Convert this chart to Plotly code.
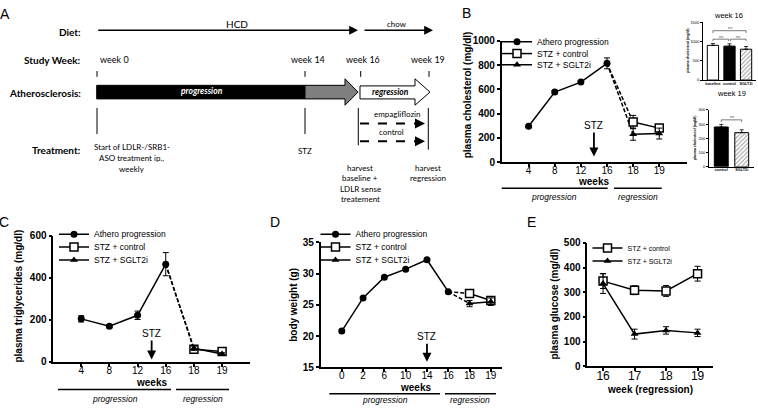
import plotly.graph_objects as go

W, H = 758, 411
def X(px): return px / W
def Y(py): return 1 - py / H

# ---------------- data ----------------
B_weeks = ["4", "8", "12", "16", "18", "19"]
B_prog_x = ["4", "8", "12", "16"]
B_prog = [295, 578, 660, 815]
B_prog_err = [10, 12, 10, 45]
B_reg_x = ["18", "19"]
B_ctrl = [330, 280]
B_ctrl_err = [55, 25]
B_sglt = [230, 235]
B_sglt_err = [50, 45]

W16_groups = ["baseline", "control", "SGLT2i"]
W16_vals = [900, 880, 800]
W16_err = [50, 60, 70]
W19_groups = ["control", "SGLT2i"]
W19_vals = [280, 240]
W19_err = [18, 20]

C_weeks = ["4", "8", "12", "16", "18", "19"]
C_prog_x = ["4", "8", "12", "16"]
C_prog = [205, 170, 222, 465]
C_prog_err = [15, 8, 20, 55]
C_reg_x = ["18", "19"]
C_ctrl = [60, 50]
C_ctrl_err = [8, 8]
C_sglt = [65, 38]
C_sglt_err = [10, 6]

D_weeks = ["0", "2", "6", "10", "14", "16", "18", "19"]
D_prog_x = ["0", "2", "6", "10", "14", "16"]
D_prog = [20.8, 26.1, 29.4, 30.7, 32.2, 27.1]
D_reg_x = ["18", "19"]
D_ctrl = [26.8, 25.7]
D_ctrl_err = [0.6, 0.6]
D_sglt = [25.2, 25.5]
D_sglt_err = [0.5, 0.6]

E_weeks = [16, 17, 18, 19]
E_ctrl = [345, 308, 305, 375]
E_ctrl_err = [30, 18, 22, 30]
E_sglt = [335, 130, 145, 135]
E_sglt_err = [40, 20, 15, 15]

names = ["Athero progression", "STZ + control", "STZ + SGLT2i"]

FONT = "Liberation Sans, Arial, sans-serif"
AFONT = "Lato, Open Sans, sans-serif"
BLACK = "black"

fig = go.Figure()

def err(arr):
    return dict(type="data", array=arr, color=BLACK, thickness=1, width=3, visible=True)

mk_circle = dict(symbol="circle", size=7, color=BLACK)
mk_square = dict(symbol="square", size=8, color="white", line=dict(color=BLACK, width=1.5))
mk_tri = dict(symbol="triangle-up", size=7, color=BLACK)
solid = dict(color=BLACK, width=1.5)
dashed = dict(color=BLACK, width=1.5, dash="4px,2px")

legend_defs = {}   # legend id -> (x px of legend, y px of item centre, font size)
def leg(lid, x, y, size):
    legend_defs[lid] = (x, y, size)
    return lid

def time_panel(xa, ya, legs, prog_x, prog, prog_err, reg_x, ctrl, ctrl_err, sglt, sglt_err):
    fig.add_trace(go.Scatter(x=[prog_x[-1], reg_x[0]], y=[prog[-1], ctrl[0]], mode="lines",
                             line=dashed, xaxis=xa, yaxis=ya, showlegend=False, hoverinfo="skip"))
    fig.add_trace(go.Scatter(x=[prog_x[-1], reg_x[0]], y=[prog[-1], sglt[0]], mode="lines",
                             line=dashed, xaxis=xa, yaxis=ya, showlegend=False, hoverinfo="skip"))
    fig.add_trace(go.Scatter(x=prog_x, y=prog, name=names[0], mode="lines+markers",
                             line=solid, marker=mk_circle,
                             error_y=err(prog_err) if prog_err else None,
                             xaxis=xa, yaxis=ya, legend=legs[0]))
    fig.add_trace(go.Scatter(x=reg_x, y=ctrl, name=names[1], mode="lines+markers",
                             line=solid, marker=mk_square, error_y=err(ctrl_err),
                             xaxis=xa, yaxis=ya, legend=legs[1]))
    fig.add_trace(go.Scatter(x=reg_x, y=sglt, name=names[2], mode="lines+markers",
                             line=solid, marker=mk_tri, error_y=err(sglt_err),
                             xaxis=xa, yaxis=ya, legend=legs[2]))

time_panel("x", "y", [leg("legend", 497, 36.7, 8.5), leg("legend2", 497, 49, 8.5), leg("legend3", 497, 60.5, 8.5)],
           B_prog_x, B_prog, B_prog_err, B_reg_x, B_ctrl, B_ctrl_err, B_sglt, B_sglt_err)
time_panel("x4", "y4", [leg("legend4", 54, 235, 8.5), leg("legend5", 54, 248.3, 8.5), leg("legend6", 54, 261.7, 8.5)],
           C_prog_x, C_prog, C_prog_err, C_reg_x, C_ctrl, C_ctrl_err, C_sglt, C_sglt_err)
time_panel("x5", "y5", [leg("legend7", 315.5, 235, 8.5), leg("legend8", 315.5, 248.3, 8.5), leg("legend9", 315.5, 261.7, 8.5)],
           D_prog_x, D_prog, None, D_reg_x, D_ctrl, D_ctrl_err, D_sglt, D_sglt_err)

# Panel E
fig.add_trace(go.Scatter(x=E_weeks, y=E_ctrl, name=names[1], mode="lines+markers", line=solid,
                         marker=mk_square, error_y=err(E_ctrl_err), xaxis="x6", yaxis="y6",
                         legend=leg("legend10", 587.5, 249.3, 7)))
fig.add_trace(go.Scatter(x=E_weeks, y=E_sglt, name=names[2], mode="lines+markers", line=solid,
                         marker=mk_tri, error_y=err(E_sglt_err), xaxis="x6", yaxis="y6",
                         legend=leg("legend11", 587.5, 262.7, 7)))

# Insets
def bar_err(arr):
    return dict(type="data", array=arr, arrayminus=[0] * len(arr), symmetric=False,
                color=BLACK, thickness=0.8, width=2)

w16_colors = ["white", BLACK, "white"]
w16_pat = ["", "", "/"]
fig.add_trace(go.Bar(x=W16_groups, y=W16_vals, error_y=bar_err(W16_err), width=0.68,
                     marker=dict(color=w16_colors, line=dict(color=BLACK, width=1),
                                 pattern=dict(shape=w16_pat, fgcolor="#555", bgcolor="white", size=3, solidity=0.35)),
                     xaxis="x2", yaxis="y2", showlegend=False))
w19_colors = [BLACK, "white"]
w19_pat = ["", "/"]
fig.add_trace(go.Bar(x=W19_groups, y=W19_vals, error_y=bar_err(W19_err), width=0.68,
                     marker=dict(color=w19_colors, line=dict(color=BLACK, width=1),
                                 pattern=dict(shape=w19_pat, fgcolor="#555", bgcolor="white", size=3, solidity=0.35)),
                     xaxis="x3", yaxis="y3", showlegend=False))

# ---------------- axes ----------------
BOLDT = dict(family=FONT, size=10, color=BLACK, weight="bold")
REGT = dict(family=FONT, size=10, color=BLACK)
INSX = dict(family=FONT, size=3.8, color=BLACK, weight="bold")
INSY = dict(family=FONT, size=4, color=BLACK)

def ax_style(**kw):
    d = dict(showline=True, linecolor=BLACK, linewidth=1.5, ticks="outside", ticklen=3,
             tickwidth=1.5, tickcolor=BLACK, showgrid=False, zeroline=False,
             tickfont=BOLDT, fixedrange=True)
    d.update(kw)
    return d

layout = dict(
    width=W, height=H, margin=dict(l=0, r=0, t=0, b=0),
    paper_bgcolor="white", plot_bgcolor="rgba(0,0,0,0)",
    font=dict(family=FONT, color=BLACK),
    xaxis=ax_style(domain=[X(501.7), X(686.7)], anchor="y", type="category", tickfont=REGT,
                   ticklabelstandoff=-5,
                   categoryorder="array", categoryarray=B_weeks, range=[-1.03, 6.05]),
    yaxis=ax_style(domain=[Y(160.7), Y(36)], anchor="x", range=[0, 1000], tickvals=[0, 200, 400, 600, 800, 1000]),
    xaxis2=ax_style(domain=[X(703), X(756)], anchor="y2", type="category", range=[-0.6, 2.6],
                    ticks="", linewidth=0.8, tickangle=0, tickfont=INSX, ticklabelstandoff=-1),
    yaxis2=ax_style(domain=[Y(76.3), Y(16.7)], anchor="x2", range=[0, 1500], tickvals=[0, 500, 1000, 1500],
                    linewidth=0.8, ticklen=2, tickwidth=0.8, tickfont=INSY),
    xaxis3=ax_style(domain=[X(709), X(754)], anchor="y3", type="category", range=[-0.6, 1.6],
                    ticks="", linewidth=0.8, tickangle=0, tickfont=INSX, ticklabelstandoff=-1),
    yaxis3=ax_style(domain=[Y(165.7), Y(107)], anchor="x3", range=[0, 400], tickvals=[0, 100, 200, 300, 400],
                    linewidth=0.8, ticklen=2, tickwidth=0.8, tickfont=INSY),
    xaxis4=ax_style(domain=[X(53.3), X(250)], anchor="y4", type="category", tickfont=REGT,
                    ticklabelstandoff=-5,
                    categoryorder="array", categoryarray=C_weeks, range=[-0.99, 5.99]),
    yaxis4=ax_style(domain=[Y(366.7), Y(236.7)], anchor="x4", range=[0, 600], tickvals=[0, 200, 400, 600]),
    xaxis5=ax_style(domain=[X(320.7), X(501.7)], anchor="y5", type="category", tickfont=REGT,
                    ticklabelstandoff=-5,
                    categoryorder="array", categoryarray=D_weeks, range=[-0.99, 7.51]),
    yaxis5=ax_style(domain=[Y(372.3), Y(243.3)], anchor="x5", range=[15, 35], tickvals=[15, 20, 25, 30, 35]),
    xaxis6=ax_style(domain=[X(587.3), X(713.3)], anchor="y6", range=[15.5, 19.5], tickvals=E_weeks,
                    ticklabelstandoff=-5,
                    tickfont=dict(family=FONT, size=12, color=BLACK)),
    yaxis6=ax_style(domain=[Y(371), Y(244)], anchor="x6", range=[0, 500], tickvals=[0, 100, 200, 300, 400, 500]),
    showlegend=True,
)

for lid, (lx, ly, fs) in legend_defs.items():
    layout[lid] = dict(x=X(lx), y=Y(ly), xanchor="left", yanchor="middle", bgcolor="rgba(0,0,0,0)",
                       borderwidth=0, itemwidth=30, font=dict(family=FONT, size=fs, color=BLACK))

fig.update_layout(**layout)

ann = []
shapes = []

def txt(x, y, s, size=9, bold=False, italic=False, color=BLACK, xanchor="center", family=AFONT, angle=0):
    t = s
    if bold:
        t = "<b>" + t + "</b>"
    if italic:
        t = "<i>" + t + "</i>"
    ann.append(dict(x=X(x), y=Y(y), xref="paper", yref="paper", text=t, showarrow=False,
                    xanchor=xanchor, yanchor="middle", textangle=angle,
                    font=dict(family=family, size=size, color=color)))

def line(x0, y0, x1, y1, w=1, dash=None, color=BLACK):
    shapes.append(dict(type="line", xref="paper", yref="paper", x0=X(x0), y0=Y(y0), x1=X(x1), y1=Y(y1),
                       line=dict(color=color, width=w, dash=dash)))

def arrow(x0, y0, x1, y1, w=1.5, head=2, size=1.2):
    ann.append(dict(x=X(x1), y=Y(y1), ax=x0 - x1, ay=y0 - y1, xref="paper", yref="paper",
                    axref="pixel", ayref="pixel", text="", showarrow=True, standoff=0, startstandoff=0,
                    arrowhead=head, arrowsize=size, arrowwidth=w, arrowcolor=BLACK))

def path(pts, fill, lw=1):
    d = "M " + " L ".join(f"{X(a):.5f},{Y(b):.5f}" for a, b in pts) + " Z"
    shapes.append(dict(type="path", xref="paper", yref="paper", path=d, fillcolor=fill,
                       line=dict(color=BLACK, width=lw)))

# ---------------- Panel letters ----------------
for L, x, y in [("A", 5, 8), ("B", 466, 7), ("C", 4, 222), ("D", 275, 222), ("E", 531, 222)]:
    txt(x, y, L, size=14, family=FONT)

# ---------------- Panel A ----------------
txt(83, 26.5, "Diet:", size=10, bold=True, xanchor="right")
txt(83, 56, "Study Week:", size=10, bold=True, xanchor="right")
txt(83, 90, "Atherosclerosis:", size=10, bold=True, xanchor="right")
txt(83, 148, "Treatment:", size=10, bold=True, xanchor="right")

txt(236.7, 18.5, "HCD", size=10)
arrow(96.7, 25, 358, 25, w=1.6, head=2, size=1.1)
txt(396.7, 19, "chow", size=8)
arrow(363, 25, 433, 25, w=1.6, head=2, size=1.1)

txt(98, 55, "week 0", size=9, xanchor="left")
txt(308, 55, "week 14", size=9)
txt(363.3, 55, "week 16", size=9)
txt(428.3, 55, "week 19", size=9)
for xx in [97, 305, 360.7, 429]:
    line(xx, 67, xx, 73, w=1)

shapes.append(dict(type="rect", xref="paper", yref="paper", x0=X(96.7), x1=X(305), y0=Y(95.7), y1=Y(81.7),
                   fillcolor=BLACK, line=dict(color=BLACK, width=1)))
path([(305, 81.7), (345, 81.7), (345, 75), (358, 88.7), (345, 102.2), (345, 95.7), (305, 95.7)], "#7f7f7f")
txt(201.7, 87.7, "progression", size=8.5, bold=True, italic=True, color="white")
path([(360, 82.3), (415, 82.3), (415, 75), (430, 88.7), (415, 102.2), (415, 95.7), (360, 95.7)], "white")
txt(390, 88.7, "regression", size=8.5, bold=True, italic=True)

line(97, 105, 97, 132, w=1)
line(305, 105, 305, 132, w=1)
line(358.3, 105, 358.3, 143.5, w=1)
line(428.3, 105, 428.3, 148, w=1)

txt(396.7, 111.7, "empagliflozin", size=8)
line(360, 121, 417, 121, w=2, dash="dash")
arrow(414, 121, 425, 121, w=2, head=2, size=1)
txt(391.7, 130, "control", size=8)
line(360, 139.3, 417, 139.3, w=2, dash="dash")
arrow(414, 139.3, 425, 139.3, w=2, head=2, size=1)

txt(131.5, 145.7, "Start of LDLR-/SRB1-", size=8)
txt(131.5, 156.7, "ASO treatment ip.,", size=8)
txt(131.5, 167.5, "weekly", size=8)
txt(305, 149.3, "STZ", size=8)
for i, s in enumerate(["harvest", "baseline +", "LDLR sense", "treatement"]):
    txt(360, 166.7 + i * 10.8, s, size=8)
for i, s in enumerate(["harvest", "regression"]):
    txt(427.7, 166.7 + i * 10.8, s, size=8)

# ---------------- y titles ----------------
txt(467.3, 91.7, "plasma cholesterol (mg/dl)", size=10, bold=True, family=FONT, angle=-90)
txt(18.3, 299, "plasma triglycerides (mg/dl)", size=10, bold=True, family=FONT, angle=-90)
txt(293.3, 307.5, "body weight (g)", size=10, bold=True, family=FONT, angle=-90)
txt(555, 307.5, "plasma glucose (mg/dl)", size=10, bold=True, family=FONT, angle=-90)
txt(688, 46, "plasma cholesterol (mg/dl)", size=3.5, bold=True, family=FONT, angle=-90)
txt(695, 136, "plasma cholesterol (mg/dl)", size=3.5, bold=True, family=FONT, angle=-90)

# x titles and stage bars
txt(593.3, 181, "weeks", size=10, bold=True, family=FONT)
line(501.7, 187.7, 607.7, 187.7, w=1.5)
line(614, 187.7, 661.7, 187.7, w=1.5)
txt(554.3, 196.7, "progression", size=8.5, italic=True, family=FONT)
txt(637.7, 196.7, "regression", size=8.5, italic=True, family=FONT)

txt(151.7, 388, "weeks", size=10, bold=True, family=FONT)
line(58, 395, 171, 395, w=1.5)
line(176, 395, 229, 395, w=1.5)
txt(114.5, 404.5, "progression", size=8.5, italic=True, family=FONT)
txt(202.5, 404.5, "regression", size=8.5, italic=True, family=FONT)

txt(415.7, 393, "weeks", size=10, bold=True, family=FONT)
line(329.3, 399.5, 440, 399.5, w=1.5)
line(445, 399.5, 496, 399.5, w=1.5)
txt(384.7, 405.5, "progression", size=8.5, italic=True, family=FONT)
txt(470.5, 405.5, "regression", size=8.5, italic=True, family=FONT)

txt(650.3, 395, "week (regression)", size=10, bold=True, family=FONT)

txt(728.5, 10, "week 16", size=7.5, family=FONT)
txt(731.7, 90, "week 19", size=7.5, family=FONT)

def stz(xa, ya, xv, yv, ay):
    ann.append(dict(x=xv, y=yv, xref=xa, yref=ya, text="STZ", showarrow=True, ax=0, ay=ay,
                    arrowhead=2, arrowsize=1, arrowwidth=1.8, arrowcolor=BLACK,
                    font=dict(family=FONT, size=10, color=BLACK)))
stz("x", "y", 2.5, 46, -31)
stz("x4", "y4", 2.5, 12, -26)
stz("x5", "y5", 4, 15.9, -25)

def bracket(xa, ya, x0, x1, yv, drop, label_y):
    for (a, b, c, d) in [(x0, yv, x1, yv), (x0, yv, x0, yv - drop), (x1, yv, x1, yv - drop)]:
        shapes.append(dict(type="line", xref=xa, yref=ya, x0=a, y0=b, x1=c, y1=d,
                           line=dict(color="#444", width=0.7)))
    ann.append(dict(x=(x0 + x1) / 2, y=label_y, xref=xa, yref=ya, text="ns", showarrow=False,
                    font=dict(family=FONT, size=4, color="#444")))
bracket("x2", "y2", 0, 2, 1280, 60, 1370)
bracket("x2", "y2", 0, 0.95, 1060, 50, 1140)
bracket("x2", "y2", 1.05, 2, 1060, 50, 1140)
bracket("x3", "y3", 0, 1, 330, 15, 355)

fig.update_layout(annotations=ann, shapes=shapes)
fig.write_html("out.html", config={"displayModeBar": False},
               post_script="document.body.style.margin='0';document.body.style.padding='0';")
